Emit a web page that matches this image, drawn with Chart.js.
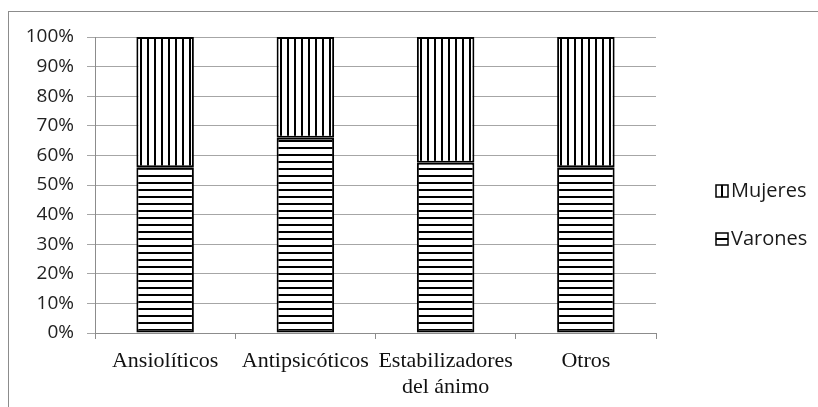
<!DOCTYPE html>
<html>
<head>
<meta charset="utf-8">
<script src="https://cdn.jsdelivr.net/npm/chart.js@4.4.1/dist/chart.umd.min.js"></script>
<style>
  html, body { margin: 0; padding: 0; background: #fff; }
  #wrap { position: relative; width: 818px; height: 407px; overflow: hidden; }
  #frame { position: absolute; left: 8px; top: 11px; width: 900px; height: 500px; border: 1px solid #8c8c8c; }
  #chart { position: absolute; left: 0; top: 0; }
</style>
</head>
<body>
<div id="wrap">
  <div id="frame"></div>
  <canvas id="chart" width="818" height="407"></canvas>
</div>
<script>
const categories = ['Ansiolíticos', 'Antipsicóticos', ['Estabilizadores', 'del ánimo'], 'Otros'];
const seriesNames = ['Varones', 'Mujeres'];
const varones = [56, 66, 57.5, 56];
const mujeres = [44, 34, 42.5, 44];
const yTicks = [0, 10, 20, 30, 40, 50, 60, 70, 80, 90, 100];

function makePattern(vertical) {
  const c = document.createElement('canvas');
  c.width = 7;
  c.height = 7;
  const g = c.getContext('2d');
  g.fillStyle = '#fff';
  g.fillRect(0, 0, 7, 7);
  g.fillStyle = '#000';
  if (vertical) g.fillRect(0, 0, 2, 7);
  else g.fillRect(0, 0, 7, 2);
  return g.createPattern(c, 'repeat');
}

const ctx = document.getElementById('chart').getContext('2d');
const patVarones = makePattern(false);
const patMujeres = makePattern(true);

// legend drawn by hand so it can sit away from the plot like the original
const sideLegend = {
  id: 'sideLegend',
  afterDraw(chart) {
    const g = chart.ctx;
    const area = chart.chartArea;
    const items = chart.data.datasets.slice().reverse();
    g.save();
    items.forEach((ds, i) => {
      const x = area.right + 60;
      const y = 191 + i * 48;
      g.fillStyle = ds.backgroundColor;
      g.fillRect(x, y - 6, 12, 12);
      g.strokeStyle = '#000';
      g.lineWidth = 1.5;
      g.strokeRect(x, y - 6, 12, 12);
      g.fillStyle = '#1a1a1a';
      g.font = '20px "Open Sans"';
      g.textBaseline = 'middle';
      g.fillText(ds.label, x + 15, y);
    });
    g.restore();
  },
};

new Chart(ctx, {
  type: 'bar',
  data: {
    labels: categories,
    datasets: [
      { label: seriesNames[0], data: varones, backgroundColor: patVarones },
      { label: seriesNames[1], data: mujeres, backgroundColor: patMujeres },
    ],
  },
  options: {
    responsive: false,
    animation: false,
    layout: { padding: { left: 0, top: 37, right: 162, bottom: 0 } },
    datasets: {
      bar: {
        borderColor: '#000',
        borderWidth: 2,
        borderSkipped: false,
        categoryPercentage: 1,
        barPercentage: 0.41,
      },
    },
    plugins: { legend: { display: false }, tooltip: { enabled: false } },
    scales: {
      x: {
        stacked: true,
        border: { color: '#8c8c8c' },
        grid: { drawOnChartArea: false, color: '#8c8c8c', tickLength: 6, offset: true },
        ticks: { color: '#111', font: { family: '"Liberation Serif"', size: 22 }, padding: 9, maxRotation: 0, autoSkip: false },
        afterFit: (s) => { s.height = 74; },
      },
      y: {
        stacked: true,
        min: 0,
        max: 100,
        border: { color: '#8c8c8c' },
        grid: { color: '#a6a6a6', tickLength: 8 },
        afterBuildTicks: (s) => { s.ticks = yTicks.map((v) => ({ value: v })); },
        ticks: { color: '#222', font: { family: '"Open Sans"', size: 19 }, padding: 13, callback: (v) => v + '%' },
        afterFit: (s) => { s.width = 95; },
      },
    },
  },
  plugins: [sideLegend],
});
</script>
</body>
</html>
